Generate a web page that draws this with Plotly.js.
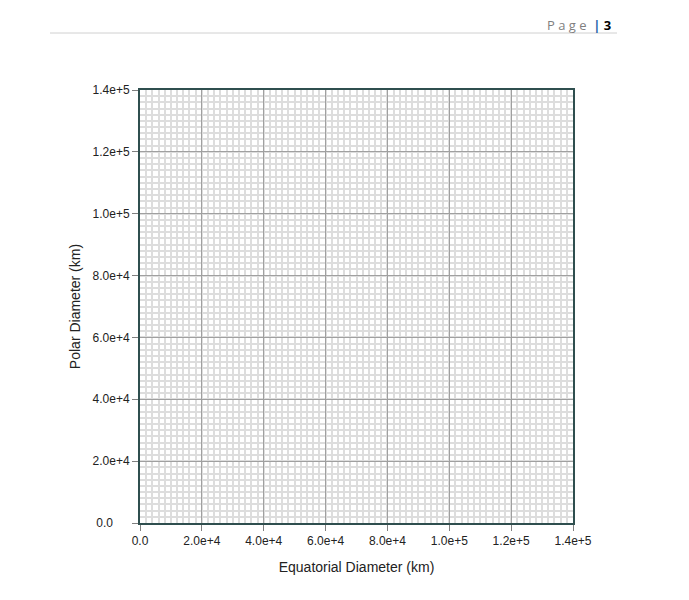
<!DOCTYPE html>
<html>
<head>
<meta charset="utf-8">
<script src="https://cdn.plot.ly/plotly-3.0.1.min.js"></script>
<style>html,body{margin:0;padding:0;background:#fff;}#chart{width:689px;height:600px;}</style>
</head>
<body>
<div id="chart"></div>
<script>
// Chart data (empty graph paper: no plotted points)
var xValues = [];
var yValues = [];
var xTickVals = [0, 20000, 40000, 60000, 80000, 100000, 120000, 140000];
var xTickText = ["0.0", "2.0e+4", "4.0e+4", "6.0e+4", "8.0e+4", "1.0e+5", "1.2e+5", "1.4e+5"];
var yTickVals = [0, 20000, 40000, 60000, 80000, 100000, 120000, 140000];
var yTickText = ["0.0\u00a0\u00a0\u00a0\u00a0\u00a0", "2.0e+4", "4.0e+4", "6.0e+4", "8.0e+4", "1.0e+5", "1.2e+5", "1.4e+5"];
var axisRange = [0, 140000];
var minorStep = 2000;
var xTitle = "Equatorial Diameter (km)";
var yTitle = "Polar Diameter (km)";
var pageLabel = "P\u00a0a\u00a0g\u00a0e";
var pageNumber = "3";

var W = 689, H = 600;
var m = {l: 140, r: 116, t: 90, b: 77};
var pw = W - m.l - m.r, ph = H - m.t - m.b;
function px(x) { return (x - m.l) / pw; }
function py(y) { return (H - m.b - y) / ph; }

var font = "Liberation Sans, Arial, sans-serif";

var axisCommon = {
  range: axisRange,
  tickmode: "array",
  showline: true,
  mirror: true,
  linecolor: "#2f4f4f",
  linewidth: 2,
  ticks: "outside",
  ticklen: 6,
  tickcolor: "#808080",
  tickwidth: 1,
  showgrid: true,
  gridcolor: "#a0a0a0",
  gridwidth: 1,
  zeroline: false,
  tickfont: {family: font, size: 12, color: "#222"},
  minor: {dtick: minorStep, showgrid: true, gridcolor: "#dddddd", gridwidth: 2, ticks: ""},
  fixedrange: true
};

var layout = {
  width: W, height: H,
  margin: m,
  paper_bgcolor: "#fff",
  plot_bgcolor: "#fff",
  showlegend: false,
  xaxis: Object.assign({}, axisCommon, {
    tickvals: xTickVals, ticktext: xTickText,
    title: {text: xTitle, font: {family: font, size: 14, color: "#222"}, standoff: 15}
  }),
  yaxis: Object.assign({}, axisCommon, {
    tickvals: yTickVals, ticktext: yTickText,
    title: {text: yTitle, font: {family: font, size: 14, color: "#222"}, standoff: 9}
  }),
  shapes: [
    {type: "line", xref: "paper", yref: "paper", x0: px(50), x1: px(617), y0: py(33), y1: py(33),
     line: {color: "#d0d0d0", width: 1}}
  ],
  annotations: [
    {xref: "paper", yref: "paper", x: px(613), y: py(25), xanchor: "right", yanchor: "middle",
     showarrow: false, font: {family: "Open Sans, sans-serif", size: 13, color: "#7f7f7f"},
     text: pageLabel + "\u00a0\u00a0<span style='color:#1f5fa8'><b>|</b></span>\u00a0<span style='color:#000'><b>" + pageNumber + "</b></span>"}
  ]
};

Plotly.newPlot("chart", [{x: xValues, y: yValues, type: "scatter", mode: "markers"}], layout, {staticPlot: true, displayModeBar: false});
</script>
</body>
</html>
